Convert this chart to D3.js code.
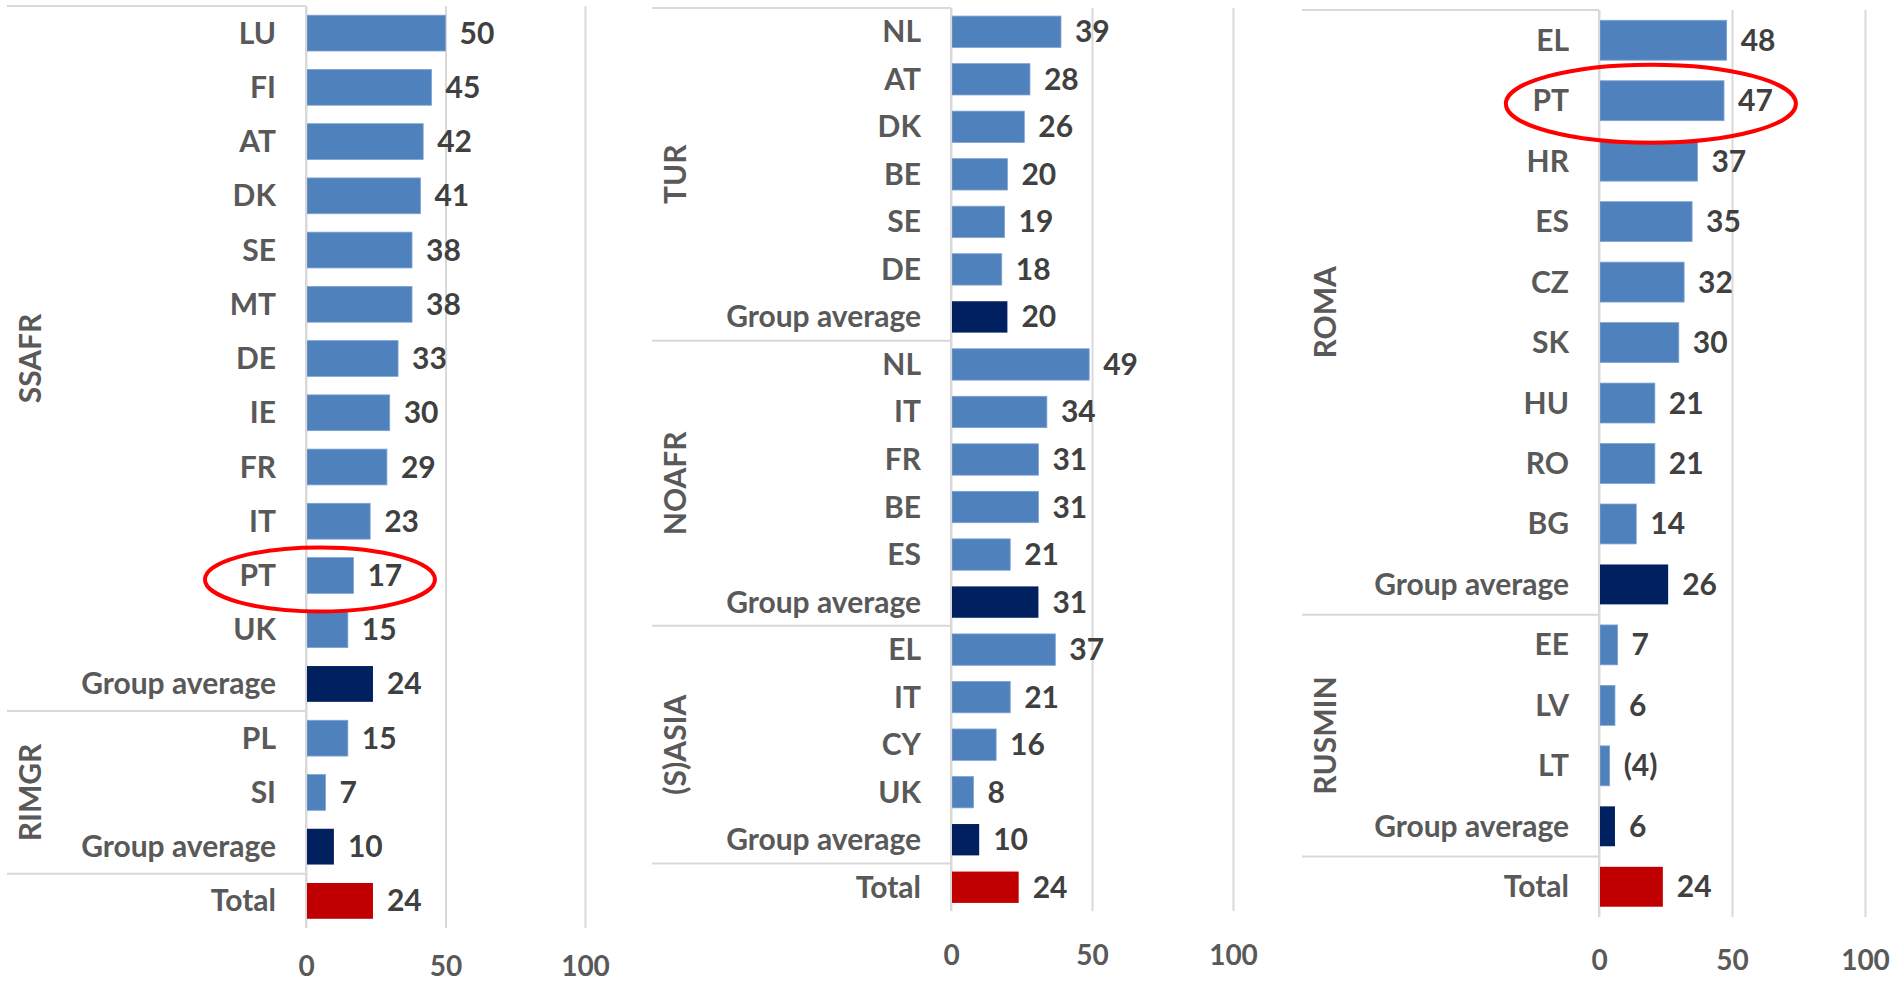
<!DOCTYPE html>
<html>
<head>
<meta charset="utf-8">
<script src="https://cdn.jsdelivr.net/npm/d3@7"></script>
<style>
  html, body { margin: 0; padding: 0; background: #fff; }
  svg { display: block; }
  text { font-family: Lato, "Open Sans", sans-serif; font-weight: 700; }
</style>
</head>
<body>
<svg id="chart" width="1890" height="981"></svg>
<script>
// ---- Left panel ----
const ssafrCountries = ["LU", "FI", "AT", "DK", "SE", "MT", "DE", "IE", "FR", "IT", "PT", "UK", "Group average"];
const ssafrValues    = [50, 45, 42, 41, 38, 38, 33, 30, 29, 23, 17, 15, 24];
const rimgrCountries = ["PL", "SI", "Group average"];
const rimgrValues    = [15, 7, 10];

// ---- Middle panel ----
const turCountries   = ["NL", "AT", "DK", "BE", "SE", "DE", "Group average"];
const turValues      = [39, 28, 26, 20, 19, 18, 20];
const noafrCountries = ["NL", "IT", "FR", "BE", "ES", "Group average"];
const noafrValues    = [49, 34, 31, 31, 21, 31];
const sasiaCountries = ["EL", "IT", "CY", "UK", "Group average"];
const sasiaValues    = [37, 21, 16, 8, 10];

// ---- Right panel ----
const romaCountries   = ["EL", "PT", "HR", "ES", "CZ", "SK", "HU", "RO", "BG", "Group average"];
const romaValues      = [48, 47, 37, 35, 32, 30, 21, 21, 14, 26];
const rusminCountries = ["EE", "LV", "LT", "Group average"];
const rusminValues    = [7, 6, 4, 6];
const rusminLabels    = ["7", "6", "(4)", "6"];   // LT shown in brackets (low reliability)

const totalLabel = "Total";
const totalValue = 24;
const xTicks = [0, 50, 100];

// Panel definitions: groups in display order, plus the highlighted row
const panels = [
  {
    groups: [
      { name: "SSAFR", countries: ssafrCountries, values: ssafrValues },
      { name: "RIMGR", countries: rimgrCountries, values: rimgrValues }
    ],
    highlight: { group: 0, country: "PT" },
    frame: { left: 7, axisX: 306, maxX: 585, top: 6, bottom: 928, tickY: 966 },
    ring: { xValue: 5, dy: 4, rx: 115, ry: 32 }
  },
  {
    groups: [
      { name: "TUR", countries: turCountries, values: turValues },
      { name: "NOAFR", countries: noafrCountries, values: noafrValues },
      { name: "(S)ASIA", countries: sasiaCountries, values: sasiaValues }
    ],
    highlight: null,
    frame: { left: 652, axisX: 951, maxX: 1233, top: 8, bottom: 911, tickY: 955 }
  },
  {
    groups: [
      { name: "ROMA", countries: romaCountries, values: romaValues },
      { name: "RUSMIN", countries: rusminCountries, values: rusminValues, labels: rusminLabels }
    ],
    highlight: { group: 0, country: "PT" },
    frame: { left: 1302, axisX: 1599, maxX: 1865, top: 10, bottom: 917, tickY: 960 },
    ring: { xValue: 19.5, dy: 3, rx: 145, ry: 39 }
  }
];

const colors = { country: "#4F81BD", average: "#002060", total: "#C00000" };
const gridColor = "#D9D9D9";
const labelColor = "#595959";
const valueColor = "#404040";
const fontSize = 30;
const tickFontSize = 28;

const svg = d3.select("#chart");

panels.forEach((panel, pi) => {
  const f = panel.frame;

  // Flatten groups into rows
  const rows = [];
  const groupSpans = [];
  panel.groups.forEach((g, gi) => {
    const start = rows.length;
    g.countries.forEach((c, i) => {
      rows.push({
        key: `${pi}-${gi}-${i}`,
        label: c,
        value: g.values[i],
        text: g.labels ? g.labels[i] : String(g.values[i]),
        type: c === "Group average" ? "average" : "country",
        group: gi
      });
    });
    groupSpans.push({ name: g.name, start, end: rows.length });
  });
  rows.push({ key: `${pi}-total`, label: totalLabel, value: totalValue, text: String(totalValue), type: "total", group: -1 });

  const x = d3.scaleLinear().domain([0, 100]).range([f.axisX, f.maxX]);
  const y = d3.scaleBand()
    .domain(rows.map(r => r.key))
    .range([f.top, f.bottom])
    .paddingInner(0.34)
    .paddingOuter(0.17);
  const step = y.step();
  const rowTop = i => f.top + i * step;

  const g = svg.append("g").attr("class", "panel");

  // Vertical gridlines and bottom tick labels
  const xAxis = d3.axisBottom(x)
    .tickValues(xTicks)
    .tickSizeInner(-(f.bottom - f.top))
    .tickSizeOuter(0)
    .tickPadding(0);
  const ax = g.append("g")
    .attr("transform", `translate(0,${f.bottom})`)
    .call(xAxis);
  ax.select(".domain").remove();
  ax.selectAll(".tick line")
    .attr("stroke", gridColor)
    .attr("stroke-width", 2);
  ax.selectAll(".tick text")
    .attr("y", f.tickY - f.bottom)
    .attr("dy", "0.34em")
    .attr("fill", labelColor)
    .style("font-size", tickFontSize + "px")
    .style("font-family", "Lato, sans-serif")
    .style("font-weight", 700);

  // Category separators (top, between groups, before total)
  const sepRows = [0].concat(groupSpans.map(s => s.end));
  g.selectAll("line.sep")
    .data(sepRows)
    .join("line")
    .attr("class", "sep")
    .attr("x1", f.left)
    .attr("x2", x(0))
    .attr("y1", d => rowTop(d))
    .attr("y2", d => rowTop(d))
    .attr("stroke", gridColor)
    .attr("stroke-width", 2);

  // Bars
  g.selectAll("rect.bar")
    .data(rows)
    .join("rect")
    .attr("class", "bar")
    .attr("x", x(0) + 1)
    .attr("y", d => y(d.key))
    .attr("width", d => Math.max(0, x(d.value) - x(0) - 1))
    .attr("height", y.bandwidth())
    .attr("fill", d => colors[d.type])
    .attr("stroke", d => d.type === "country" ? "#7FA3D3" : "none")
    .attr("stroke-width", 0.8);

  // Category labels
  const yAxis = d3.axisLeft(y)
    .tickSize(0)
    .tickPadding(30)
    .tickFormat(k => rows.find(r => r.key === k).label);
  const ay = g.append("g")
    .attr("transform", `translate(${x(0)},0)`)
    .call(yAxis);
  ay.select(".domain").remove();
  ay.selectAll(".tick text")
    .attr("fill", labelColor)
    .attr("dy", "0.35em")
    .style("font-size", fontSize + "px")
    .style("font-family", "Lato, sans-serif")
    .style("font-weight", 700);

  // Value axis line at zero, drawn over the bars' left edge
  g.append("line")
    .attr("x1", x(0)).attr("x2", x(0))
    .attr("y1", f.top).attr("y2", f.bottom)
    .attr("stroke", gridColor)
    .attr("stroke-width", 2);

  // Value labels
  g.selectAll("text.val")
    .data(rows)
    .join("text")
    .attr("class", "val")
    .attr("x", d => x(d.value) + 14)
    .attr("y", d => y(d.key) + y.bandwidth() / 2)
    .attr("dy", "0.35em")
    .attr("fill", valueColor)
    .style("font-size", fontSize + "px")
    .text(d => d.text);

  // Rotated group names
  g.selectAll("text.grp")
    .data(groupSpans)
    .join("text")
    .attr("class", "grp")
    .attr("transform", d => `translate(${f.left + 23},${(rowTop(d.start) + rowTop(d.end)) / 2}) rotate(-90)`)
    .attr("text-anchor", "middle")
    .attr("dy", "0.35em")
    .attr("fill", labelColor)
    .style("font-size", fontSize + "px")
    .text(d => d.name);

  // Red ring around the highlighted row
  if (panel.highlight) {
    const hr = rows.find(r => r.group === panel.highlight.group && r.label === panel.highlight.country);
    g.append("ellipse")
      .attr("cx", x(panel.ring.xValue))
      .attr("cy", y(hr.key) + y.bandwidth() / 2 + panel.ring.dy)
      .attr("rx", panel.ring.rx)
      .attr("ry", panel.ring.ry)
      .attr("fill", "none")
      .attr("stroke", "#FF0000")
      .attr("stroke-width", 4);
  }
});
</script>
</body>
</html>
